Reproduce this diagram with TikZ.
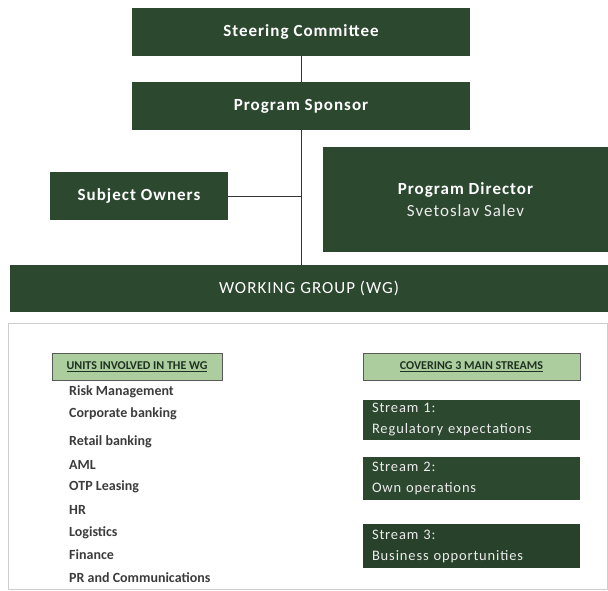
\documentclass[tikz,border=0pt]{standalone}
\usepackage{fontspec}
\setmainfont{Carlito}
\newfontfamily\spacedfont[LetterSpace=6]{Carlito}
\usepackage{tikz}
\usetikzlibrary{positioning}
\definecolor{darkgreen}{RGB}{44,72,47}
\definecolor{lightgreen}{RGB}{172,205,158}
\definecolor{panelgray}{RGB}{205,205,205}
\definecolor{itemgray}{RGB}{60,60,60}

\begin{document}
\begin{tikzpicture}[
        x=1pt, y=-1pt,
        box/.style={fill=darkgreen, text=white, inner sep=0pt,
                    align=center, font=\spacedfont\fontsize{17}{20}\selectfont\bfseries},
        hdr/.style={fill=lightgreen, draw=gray!70!black, line width=1pt,
                    minimum width=#1, minimum height=27pt, inner sep=0pt,
                    font=\fontsize{12}{14}\selectfont\bfseries, text=darkgreen!70!black},
        stream/.style={fill=darkgreen, text=white!85!gray, minimum width=217pt,
                       text width=199pt, inner xsep=9pt, align=left,
                       font=\spacedfont\fontsize{14.5}{21}\selectfont},
        item/.style={anchor=west, inner sep=0pt, text=itemgray,
                     font=\fontsize{14}{16}\selectfont\bfseries},
        link/.style={draw=black!80, line width=0.8pt},
      ]
        \useasboundingbox (0,0) rectangle (608,590);

        % Upper chart
        \node[box, minimum width=338pt, minimum height=48pt] (steer)   at (301, 32)  {Steering Committee};
        \node[box, minimum width=338pt, minimum height=48pt] (sponsor) at (301, 106) {Program Sponsor};
        \node[box, minimum width=178pt, minimum height=48pt] (owners)  at (139, 196) {Subject Owners};
        \node[box, minimum width=285pt, minimum height=105pt] (director) at (465.5, 199.5)
          {Program Director\\[2pt]{\mdseries\color{white!85!gray}Svetoslav Salev}};
        \node[box, minimum width=598pt, minimum height=47pt, font=\spacedfont\fontsize{17}{20}\selectfont]
          (wg) at (309, 288.5) {WORKING GROUP (WG)};

        \coordinate (junction) at (sponsor.south |- owners.east);
        \draw[link] (steer) -- (sponsor);
        \draw[link] (sponsor) -- (wg.north -| sponsor.south);
        \draw[link] (owners) -- (junction);

        % Lower panel
        \draw[panelgray, line width=1pt] (8,323) rectangle (607,589);
        \node[hdr=170pt] (units)   at (137, 366.5)   {\underline{UNITS INVOLVED IN THE WG}};
        \node[hdr=217pt] (streams) at (471.5, 366.5) {\underline{COVERING 3 MAIN STREAMS}};

        \foreach \y/\unit [count=\i] in {392/Risk Management, 414/Corporate banking,
            442/Retail banking, 465/AML, 487/OTP Leasing, 510/HR, 533/Logistics,
            555/Finance, 578/PR and Communications}
          \node[item] (unit\i) at (69, \y) {\unit};

        \node[stream, minimum height=38pt] (stream1) at (471.5, 420)   {Stream 1:\\Regulatory expectations};
        \node[stream, minimum height=43pt] (stream2) at (471.5, 478.5) {Stream 2:\\Own operations};
        \node[stream, minimum height=44pt, fill=darkgreen!90!black] (stream3) at (471.5, 546)
          {Stream 3:\\Business opportunities};
      \end{tikzpicture}
\end{document}
